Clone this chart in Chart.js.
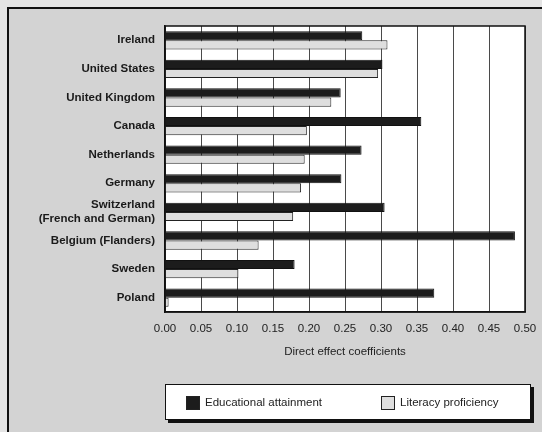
<!DOCTYPE html>
<html>
<head>
<meta charset="utf-8">
<script src="https://cdn.jsdelivr.net/npm/chart.js@4.4.1/dist/chart.umd.min.js"></script>
<style>
    html, body { margin: 0; padding: 0; background: #e4e4e4; }
    #wrap { width: 542px; height: 432px; }
</style>
</head>
<body>
<div id="wrap"><canvas id="effectChart" width="542" height="432"></canvas></div>
<script>
// ============================ data ==============================
const countries = [
    'Ireland',
    'United States',
    'United Kingdom',
    'Canada',
    'Netherlands',
    'Germany',
    ['Switzerland', '(French and German)'],
    'Belgium (Flanders)',
    'Sweden',
    'Poland'
];
const educationalAttainment = [0.274, 0.302, 0.244, 0.356, 0.273, 0.245, 0.305, 0.486, 0.180, 0.374];
const literacyProficiency = [0.309, 0.296, 0.231, 0.197, 0.194, 0.189, 0.178, 0.130, 0.102, 0.005];
const tickValues = [0, 0.05, 0.10, 0.15, 0.20, 0.25, 0.30, 0.35, 0.40, 0.45, 0.50];
const seriesNames = ['Educational attainment', 'Literacy proficiency'];
const axisTitle = 'Direct effect coefficients';

const FONT = "'Liberation Sans', Arial, sans-serif";

// ============================ plugins ==============================
// grey paper background + frame
const paperPlugin = {
    id: 'paper',
    beforeDraw(chart) {
        const ctx = chart.ctx;
        const {left, top, right, bottom} = chart.chartArea;
        ctx.save();
        ctx.fillStyle = '#e4e4e4';
        ctx.fillRect(0, 0, chart.width, chart.height);
        ctx.fillStyle = '#d3d3d3';
        ctx.fillRect(8, 8, chart.width - 8, chart.height - 8);
        ctx.strokeStyle = '#111';
        ctx.lineWidth = 2;
        ctx.beginPath();
        ctx.moveTo(8, chart.height);
        ctx.lineTo(8, 8);
        ctx.lineTo(chart.width, 8);
        ctx.stroke();
        // plot area white
        ctx.fillStyle = '#ffffff';
        ctx.fillRect(left, top, right - left, bottom - top);
        ctx.restore();
    },
    afterDatasetsDraw(chart) {
        const ctx = chart.ctx;
        const {left, top, right, bottom} = chart.chartArea;
        ctx.save();
        ctx.strokeStyle = '#111';
        ctx.lineWidth = 1.5;
        ctx.strokeRect(left, top, right - left, bottom - top);
        ctx.restore();
    }
};

// boxed legend under the axis title
const boxLegendPlugin = {
    id: 'boxLegend',
    afterDraw(chart) {
        const ctx = chart.ctx;
        const area = chart.chartArea;
        const bx = area.left, by = area.bottom + 72, bw = area.right - area.left + 6, bh = 36;
        ctx.save();
        // shadow
        ctx.fillStyle = '#111';
        ctx.fillRect(bx + 3, by + 3, bw, bh);
        ctx.fillStyle = '#fff';
        ctx.fillRect(bx, by, bw, bh);
        ctx.strokeStyle = '#111';
        ctx.lineWidth = 1;
        ctx.strokeRect(bx + 0.5, by + 0.5, bw - 1, bh - 1);

        const itemX = [bx + 21, bx + 216];
        ctx.font = '11.5px ' + FONT;
        ctx.textBaseline = 'middle';
        chart.data.datasets.forEach((ds, i) => {
            const x = itemX[i], y = by + 12;
            ctx.fillStyle = ds.backgroundColor;
            ctx.fillRect(x, y, 14, 14);
            ctx.strokeStyle = '#222';
            ctx.strokeRect(x + 0.5, y + 0.5, 13, 13);
            ctx.fillStyle = '#222';
            ctx.fillText(ds.label, x + 19, y + 7);
        });
        ctx.restore();
    }
};

// ============================ chart ==============================
document.addEventListener('DOMContentLoaded', function () {
    const ctx = document.getElementById('effectChart').getContext('2d');
    new Chart(ctx, {
        type: 'bar',
        data: {
            labels: countries,
            datasets: [
                {
                    label: seriesNames[0],
                    data: educationalAttainment,
                    backgroundColor: '#1c1c1c',
                    borderColor: '#111',
                    borderWidth: 1,
                    categoryPercentage: 0.64,
                    barPercentage: 1.0
                },
                {
                    label: seriesNames[1],
                    data: literacyProficiency,
                    backgroundColor: '#dedede',
                    borderColor: '#222',
                    borderWidth: 1,
                    categoryPercentage: 0.64,
                    barPercentage: 1.0
                }
            ]
        },
        options: {
            indexAxis: 'y',
            responsive: false,
            animation: false,
            layout: {
                padding: {left: 10, right: 17, top: 26, bottom: 70}
            },
            plugins: {
                legend: {display: false},
                tooltip: {enabled: false}
            },
            scales: {
                x: {
                    min: 0,
                    max: 0.5,
                    afterBuildTicks: (scale) => {
                        scale.ticks = tickValues.map(v => ({value: v}));
                    },
                    afterFit: (scale) => {
                        scale.height = 50;
                        scale.paddingLeft = 0;
                        scale.paddingRight = 0;
                    },
                    ticks: {
                        callback: (v) => Number(v).toFixed(2),
                        color: '#222',
                        padding: 10,
                        maxRotation: 0,
                        autoSkip: false,
                        font: {family: FONT, size: 11.5}
                    },
                    grid: {
                        color: '#4a4a4a',
                        lineWidth: 1,
                        drawTicks: false
                    },
                    border: {color: '#111', width: 1.5},
                    title: {
                        display: true,
                        text: axisTitle,
                        color: '#222',
                        font: {family: FONT, size: 11.5},
                        padding: {top: 0, bottom: 3}
                    }
                },
                y: {
                    afterFit: (scale) => {
                        scale.width = 155;
                    },
                    ticks: {
                        color: '#1a1a1a',
                        padding: 10,
                        autoSkip: false,
                        font: {family: FONT, size: 11.5, weight: 'bold'}
                    },
                    grid: {display: false, drawTicks: false},
                    border: {color: '#111', width: 1.5}
                }
            }
        },
        plugins: [paperPlugin, boxLegendPlugin]
    });
});
</script>
</body>
</html>
